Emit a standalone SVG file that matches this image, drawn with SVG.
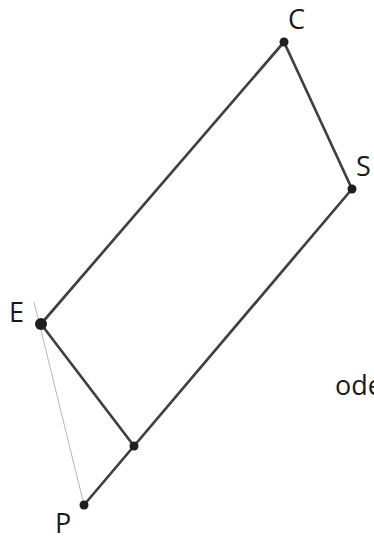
<svg xmlns="http://www.w3.org/2000/svg" width="374" height="544" viewBox="0 0 374 544">
<style>
.ln{stroke:#404040;stroke-width:2.7;stroke-linecap:round;fill:none}
.faint{stroke:#b8b8b8;stroke-width:1;fill:none}
.dot{fill:#1e1e1e}
.lbl{font-family:"Open Sans","Liberation Sans",sans-serif;font-size:27px;fill:#1a1a1a}
</style>
<rect width="374" height="544" fill="#ffffff"/>
<g id="connectors">
<line class="faint" x1="84" y1="505" x2="34" y2="302"/>
<line class="ln" x1="41" y1="324" x2="284" y2="42"/>
<line class="ln" x1="284" y1="42" x2="352" y2="189"/>
<line class="ln" x1="352" y1="189" x2="84" y2="505"/>
<line class="ln" x1="41" y1="324" x2="134" y2="446"/>
</g>
<g id="node-C"><circle class="dot" cx="284" cy="42" r="4.5"/><text class="lbl" x="288" y="29">C</text></g>
<g id="node-S"><circle class="dot" cx="352" cy="189" r="4.5"/><text class="lbl" x="356" y="176">S</text></g>
<g id="node-E"><circle class="dot" cx="41" cy="324" r="6"/><text class="lbl" x="9" y="322">E</text></g>
<g id="node-M"><circle class="dot" cx="134" cy="446" r="4.5"/></g>
<g id="node-P"><circle class="dot" cx="84" cy="505" r="4.5"/><text class="lbl" x="55" y="533">P</text></g>
<g id="text-ode"><text class="lbl" x="335" y="395">ode</text></g>
</svg>
